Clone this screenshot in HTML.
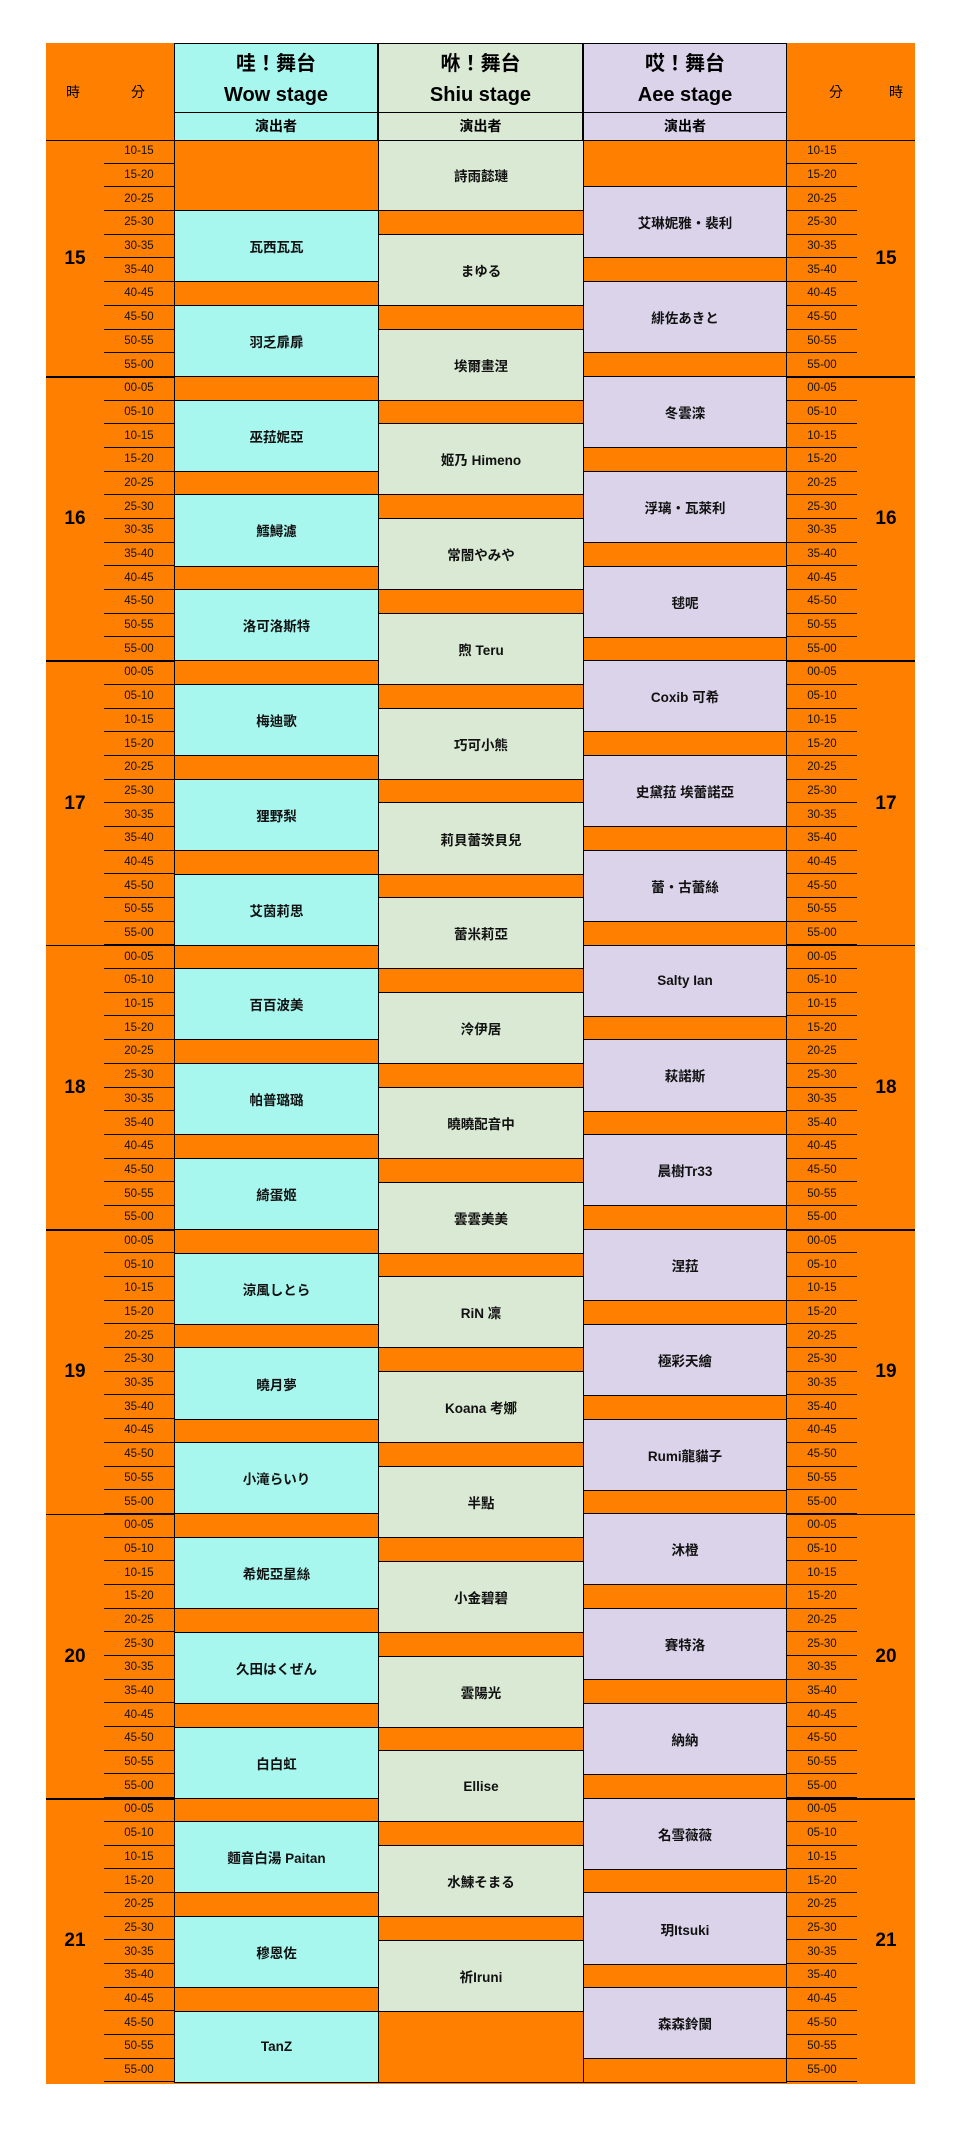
<!DOCTYPE html>
<html><head><meta charset="utf-8"><style>
*{box-sizing:border-box;margin:0;padding:0}
body{width:961px;height:2129px;background:#fff;position:relative;font-family:"Liberation Sans","Noto Sans CJK TC",sans-serif;overflow:hidden}
.a{position:absolute}
.or{background:#FF8000}
.w{background:#A8F7EF}.s{background:#D9E9D3}.e{background:#DAD3E9}
.col{position:absolute;top:140px;display:flex;flex-direction:column}
.col>div{display:flex;align-items:center;justify-content:center;font-weight:bold;font-size:13.5px;color:#111;border-bottom:1px solid #000}
.min{position:absolute;top:140px;width:70px;display:flex;flex-direction:column}
.min div{height:23.7px;border-bottom:1.5px solid #000;font-size:11.5px;display:flex;align-items:center;justify-content:center;color:#111}
.hr{position:absolute;width:58px;display:flex;align-items:center;justify-content:center;font-weight:bold;font-size:19px}
.hl{position:absolute;height:1.5px;background:#000;z-index:5}
.hl.l{left:46px;width:128px}.hl.r{left:787px;width:128px}
.hd{position:absolute;top:43px;height:70px;text-align:center;font-weight:bold;font-size:20px;line-height:31px;padding-top:5px;border:1px solid #000;border-bottom:1.5px solid #000}
.sub{position:absolute;top:113px;height:27px;text-align:center;font-weight:bold;font-size:14px;line-height:26px;border-left:1px solid #000;border-right:1px solid #000}
</style></head><body>
<div class="a or" style="left:46px;top:43px;width:869px;height:2041px"></div>
<div class="a" style="left:66px;top:82px;font-size:14px">時</div>
<div class="a" style="left:131px;top:82px;font-size:14px">分</div>
<div class="a" style="left:829px;top:82px;font-size:14px">分</div>
<div class="a" style="left:889px;top:82px;font-size:14px">時</div>
<div class="hd w" style="left:174px;width:204px">哇！舞台<br>Wow stage</div>
<div class="hd s" style="left:378px;width:205px">咻！舞台<br>Shiu stage</div>
<div class="hd e" style="left:583px;width:204px">哎！舞台<br>Aee stage</div>
<div class="sub w" style="left:174px;width:204px">演出者</div>
<div class="sub s" style="left:378px;width:205px">演出者</div>
<div class="sub e" style="left:583px;width:204px">演出者</div>

<div class="col" style="left:174px;width:204px;border-left:1px solid #000">
<div class="or" style="height:71.1px"></div>
<div class="w" style="height:71.1px">瓦西瓦瓦</div><div class="or" style="height:23.7px"></div>
<div class="w" style="height:71.1px">羽乏扉扉</div><div class="or" style="height:23.7px"></div>
<div class="w" style="height:71.1px">巫菈妮亞</div><div class="or" style="height:23.7px"></div>
<div class="w" style="height:71.1px">鱈鱘濾</div><div class="or" style="height:23.7px"></div>
<div class="w" style="height:71.1px">洛可洛斯特</div><div class="or" style="height:23.7px"></div>
<div class="w" style="height:71.1px">梅迪歌</div><div class="or" style="height:23.7px"></div>
<div class="w" style="height:71.1px">狸野梨</div><div class="or" style="height:23.7px"></div>
<div class="w" style="height:71.1px">艾茵莉思</div><div class="or" style="height:23.7px"></div>
<div class="w" style="height:71.1px">百百波美</div><div class="or" style="height:23.7px"></div>
<div class="w" style="height:71.1px">帕普璐璐</div><div class="or" style="height:23.7px"></div>
<div class="w" style="height:71.1px">綺蛋姬</div><div class="or" style="height:23.7px"></div>
<div class="w" style="height:71.1px">涼風しとら</div><div class="or" style="height:23.7px"></div>
<div class="w" style="height:71.1px">曉月夢</div><div class="or" style="height:23.7px"></div>
<div class="w" style="height:71.1px">小滝らいり</div><div class="or" style="height:23.7px"></div>
<div class="w" style="height:71.1px">希妮亞星絲</div><div class="or" style="height:23.7px"></div>
<div class="w" style="height:71.1px">久田はくぜん</div><div class="or" style="height:23.7px"></div>
<div class="w" style="height:71.1px">白白虹</div><div class="or" style="height:23.7px"></div>
<div class="w" style="height:71.1px">麵音白湯 Paitan</div><div class="or" style="height:23.7px"></div>
<div class="w" style="height:71.1px">穆恩佐</div><div class="or" style="height:23.7px"></div>
<div class="w" style="height:71.1px">TanZ</div>
</div>

<div class="col" style="left:378px;width:205px;border-left:1px solid #000">
<div class="s" style="height:71.1px">詩雨懿璉</div><div class="or" style="height:23.7px"></div>
<div class="s" style="height:71.1px">まゆる</div><div class="or" style="height:23.7px"></div>
<div class="s" style="height:71.1px">埃爾畫涅</div><div class="or" style="height:23.7px"></div>
<div class="s" style="height:71.1px">姬乃 Himeno</div><div class="or" style="height:23.7px"></div>
<div class="s" style="height:71.1px">常闇やみや</div><div class="or" style="height:23.7px"></div>
<div class="s" style="height:71.1px">煦 Teru</div><div class="or" style="height:23.7px"></div>
<div class="s" style="height:71.1px">巧可小熊</div><div class="or" style="height:23.7px"></div>
<div class="s" style="height:71.1px">莉貝蕾茨貝兒</div><div class="or" style="height:23.7px"></div>
<div class="s" style="height:71.1px">蕾米莉亞</div><div class="or" style="height:23.7px"></div>
<div class="s" style="height:71.1px">泠伊居</div><div class="or" style="height:23.7px"></div>
<div class="s" style="height:71.1px">曉曉配音中</div><div class="or" style="height:23.7px"></div>
<div class="s" style="height:71.1px">雲雲美美</div><div class="or" style="height:23.7px"></div>
<div class="s" style="height:71.1px">RiN 凜</div><div class="or" style="height:23.7px"></div>
<div class="s" style="height:71.1px">Koana 考娜</div><div class="or" style="height:23.7px"></div>
<div class="s" style="height:71.1px">半點</div><div class="or" style="height:23.7px"></div>
<div class="s" style="height:71.1px">小金碧碧</div><div class="or" style="height:23.7px"></div>
<div class="s" style="height:71.1px">雲陽光</div><div class="or" style="height:23.7px"></div>
<div class="s" style="height:71.1px">Ellise</div><div class="or" style="height:23.7px"></div>
<div class="s" style="height:71.1px">水鰊そまる</div><div class="or" style="height:23.7px"></div>
<div class="s" style="height:71.1px">祈Iruni</div><div class="or" style="height:71.1px"></div>
</div>

<div class="col" style="left:583px;width:204px;border-left:1px solid #000;border-right:1px solid #000">
<div class="or" style="height:47.4px"></div>
<div class="e" style="height:71.1px">艾琳妮雅・裴利</div><div class="or" style="height:23.7px"></div>
<div class="e" style="height:71.1px">緋佐あきと</div><div class="or" style="height:23.7px"></div>
<div class="e" style="height:71.1px">冬雲滦</div><div class="or" style="height:23.7px"></div>
<div class="e" style="height:71.1px">浮璃・瓦萊利</div><div class="or" style="height:23.7px"></div>
<div class="e" style="height:71.1px">毬呢</div><div class="or" style="height:23.7px"></div>
<div class="e" style="height:71.1px">Coxib 可希</div><div class="or" style="height:23.7px"></div>
<div class="e" style="height:71.1px">史黛菈 埃蕾諾亞</div><div class="or" style="height:23.7px"></div>
<div class="e" style="height:71.1px">蕾・古蕾絲</div><div class="or" style="height:23.7px"></div>
<div class="e" style="height:71.1px">Salty Ian</div><div class="or" style="height:23.7px"></div>
<div class="e" style="height:71.1px">萩諾斯</div><div class="or" style="height:23.7px"></div>
<div class="e" style="height:71.1px">晨樹Tr33</div><div class="or" style="height:23.7px"></div>
<div class="e" style="height:71.1px">涅菈</div><div class="or" style="height:23.7px"></div>
<div class="e" style="height:71.1px">極彩天繪</div><div class="or" style="height:23.7px"></div>
<div class="e" style="height:71.1px">Rumi龍貓子</div><div class="or" style="height:23.7px"></div>
<div class="e" style="height:71.1px">沐橙</div><div class="or" style="height:23.7px"></div>
<div class="e" style="height:71.1px">賽特洛</div><div class="or" style="height:23.7px"></div>
<div class="e" style="height:71.1px">納納</div><div class="or" style="height:23.7px"></div>
<div class="e" style="height:71.1px">名雪薇薇</div><div class="or" style="height:23.7px"></div>
<div class="e" style="height:71.1px">玥Itsuki</div><div class="or" style="height:23.7px"></div>
<div class="e" style="height:71.1px">森森鈴闌</div><div class="or" style="height:23.7px"></div>
</div>
<div class="a" style="left:174px;top:139.5px;width:613px;height:1.5px;background:#000;z-index:5"></div>

<div class="min" style="left:104px">
<div>10-15</div><div>15-20</div><div>20-25</div><div>25-30</div><div>30-35</div><div>35-40</div><div>40-45</div><div>45-50</div><div>50-55</div><div>55-00</div>
<div>00-05</div><div>05-10</div><div>10-15</div><div>15-20</div><div>20-25</div><div>25-30</div><div>30-35</div><div>35-40</div><div>40-45</div><div>45-50</div><div>50-55</div><div>55-00</div>
<div>00-05</div><div>05-10</div><div>10-15</div><div>15-20</div><div>20-25</div><div>25-30</div><div>30-35</div><div>35-40</div><div>40-45</div><div>45-50</div><div>50-55</div><div>55-00</div>
<div>00-05</div><div>05-10</div><div>10-15</div><div>15-20</div><div>20-25</div><div>25-30</div><div>30-35</div><div>35-40</div><div>40-45</div><div>45-50</div><div>50-55</div><div>55-00</div>
<div>00-05</div><div>05-10</div><div>10-15</div><div>15-20</div><div>20-25</div><div>25-30</div><div>30-35</div><div>35-40</div><div>40-45</div><div>45-50</div><div>50-55</div><div>55-00</div>
<div>00-05</div><div>05-10</div><div>10-15</div><div>15-20</div><div>20-25</div><div>25-30</div><div>30-35</div><div>35-40</div><div>40-45</div><div>45-50</div><div>50-55</div><div>55-00</div>
<div>00-05</div><div>05-10</div><div>10-15</div><div>15-20</div><div>20-25</div><div>25-30</div><div>30-35</div><div>35-40</div><div>40-45</div><div>45-50</div><div>50-55</div><div>55-00</div>
</div>
<div class="min" style="left:787px">
<div>10-15</div><div>15-20</div><div>20-25</div><div>25-30</div><div>30-35</div><div>35-40</div><div>40-45</div><div>45-50</div><div>50-55</div><div>55-00</div>
<div>00-05</div><div>05-10</div><div>10-15</div><div>15-20</div><div>20-25</div><div>25-30</div><div>30-35</div><div>35-40</div><div>40-45</div><div>45-50</div><div>50-55</div><div>55-00</div>
<div>00-05</div><div>05-10</div><div>10-15</div><div>15-20</div><div>20-25</div><div>25-30</div><div>30-35</div><div>35-40</div><div>40-45</div><div>45-50</div><div>50-55</div><div>55-00</div>
<div>00-05</div><div>05-10</div><div>10-15</div><div>15-20</div><div>20-25</div><div>25-30</div><div>30-35</div><div>35-40</div><div>40-45</div><div>45-50</div><div>50-55</div><div>55-00</div>
<div>00-05</div><div>05-10</div><div>10-15</div><div>15-20</div><div>20-25</div><div>25-30</div><div>30-35</div><div>35-40</div><div>40-45</div><div>45-50</div><div>50-55</div><div>55-00</div>
<div>00-05</div><div>05-10</div><div>10-15</div><div>15-20</div><div>20-25</div><div>25-30</div><div>30-35</div><div>35-40</div><div>40-45</div><div>45-50</div><div>50-55</div><div>55-00</div>
<div>00-05</div><div>05-10</div><div>10-15</div><div>15-20</div><div>20-25</div><div>25-30</div><div>30-35</div><div>35-40</div><div>40-45</div><div>45-50</div><div>50-55</div><div>55-00</div>
</div>

<div class="hr" style="left:46px;top:140px;height:237px">15</div>
<div class="hr" style="left:46px;top:377px;height:284.4px">16</div>
<div class="hr" style="left:46px;top:661.4px;height:284.4px">17</div>
<div class="hr" style="left:46px;top:945.8px;height:284.4px">18</div>
<div class="hr" style="left:46px;top:1230.2px;height:284.4px">19</div>
<div class="hr" style="left:46px;top:1514.6px;height:284.4px">20</div>
<div class="hr" style="left:46px;top:1799px;height:284.4px">21</div>
<div class="hr" style="left:857px;top:140px;height:237px">15</div>
<div class="hr" style="left:857px;top:377px;height:284.4px">16</div>
<div class="hr" style="left:857px;top:661.4px;height:284.4px">17</div>
<div class="hr" style="left:857px;top:945.8px;height:284.4px">18</div>
<div class="hr" style="left:857px;top:1230.2px;height:284.4px">19</div>
<div class="hr" style="left:857px;top:1514.6px;height:284.4px">20</div>
<div class="hr" style="left:857px;top:1799px;height:284.4px">21</div>

<div class="hl l" style="top:139.5px"></div><div class="hl r" style="top:139.5px"></div>
<div class="hl l" style="top:376px"></div><div class="hl r" style="top:376px"></div>
<div class="hl l" style="top:660.4px"></div><div class="hl r" style="top:660.4px"></div>
<div class="hl l" style="top:944.8px"></div><div class="hl r" style="top:944.8px"></div>
<div class="hl l" style="top:1229.2px"></div><div class="hl r" style="top:1229.2px"></div>
<div class="hl l" style="top:1513.6px"></div><div class="hl r" style="top:1513.6px"></div>
<div class="hl l" style="top:1798px"></div><div class="hl r" style="top:1798px"></div>
</body></html>
